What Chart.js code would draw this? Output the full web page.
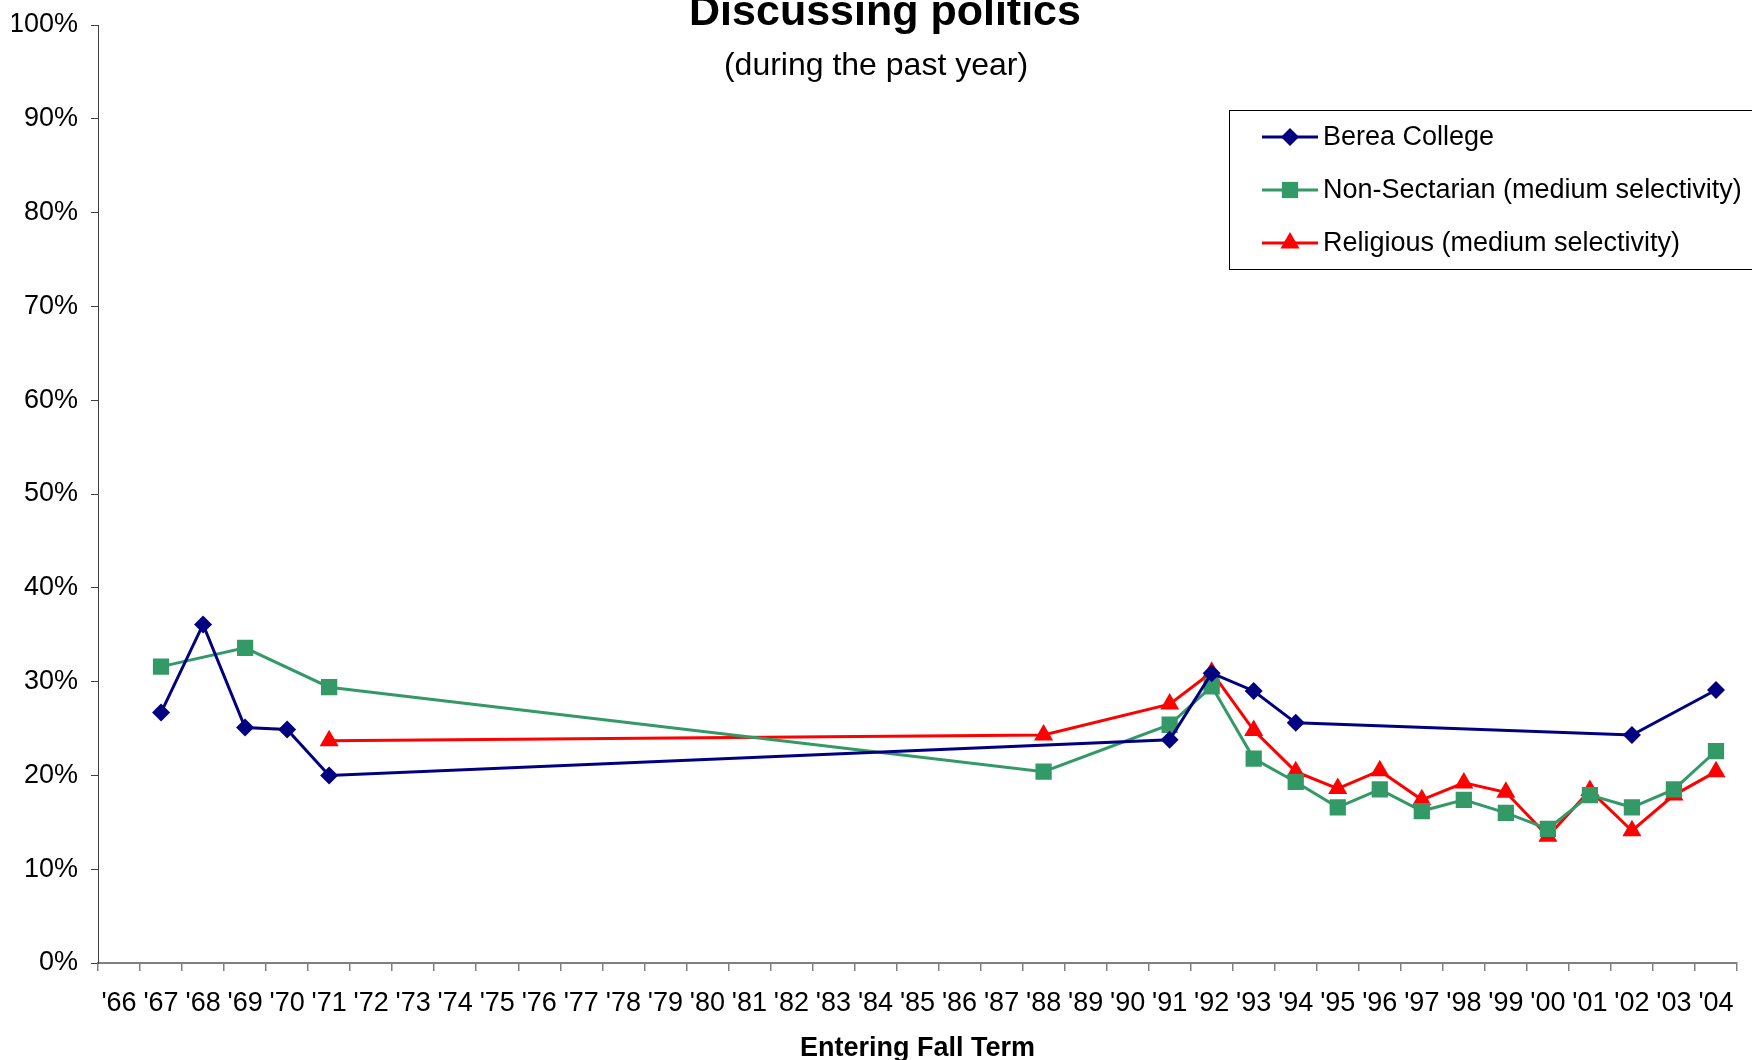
<!DOCTYPE html>
<html>
<head>
<meta charset="utf-8">
<title>Discussing politics</title>
<script src="https://cdn.jsdelivr.net/npm/chart.js@4/dist/chart.umd.min.js"></script>
<style>
  html, body { margin: 0; padding: 0; background: #fff; }
  #wrap { width: 1752px; height: 1060px; }
</style>
</head>
<body>
<div id="wrap"><canvas id="chart" width="1752" height="1060"></canvas></div>
<script>
const FONT = '"Liberation Sans", Arial, sans-serif'

// entering fall term, '66 .. '04
const years = ["'66", "'67", "'68", "'69", "'70", "'71", "'72", "'73", "'74", "'75", "'76", "'77", "'78",
  "'79", "'80", "'81", "'82", "'83", "'84", "'85", "'86", "'87", "'88", "'89", "'90", "'91",
  "'92", "'93", "'94", "'95", "'96", "'97", "'98", "'99", "'00", "'01", "'02", "'03", "'04"]

// percent of students, null = no survey that year
const berea = [null, 26.7, 36.1, 25.1, 24.9, 20.0, null, null, null, null, null, null, null,
  null, null, null, null, null, null, null, null, null, null, null, null, 23.8,
  30.9, 29.0, 25.6, null, null, null, null, null, null, null, 24.3, null, 29.1]

const nonSectarian = [null, 31.6, null, 33.6, null, 29.4, null, null, null, null, null, null, null,
  null, null, null, null, null, null, null, null, null, 20.4, null, null, 25.4,
  29.5, 21.8, 19.3, 16.6, 18.5, 16.2, 17.4, 16.0, 14.3, 17.9, 16.6, 18.5, 22.6]

const religious = [null, null, null, null, null, 23.7, null, null, null, null, null, null, null,
  null, null, null, null, null, null, null, null, null, 24.3, null, null, 27.6,
  31.0, 24.8, 20.4, 18.6, 20.5, 17.4, 19.2, 18.2, 13.5, 18.4, 14.1, 17.9, 20.4]

const yTicks = [0, 10, 20, 30, 40, 50, 60, 70, 80, 90, 100]

// title, subtitle and the boxed legend sit over the plot like in the excel chart
const overlay = {
  id: 'overlay',
  afterDraw(chart) {
    const ctx = chart.ctx
    ctx.save()
    ctx.fillStyle = '#000'
    ctx.textAlign = 'center'
    ctx.textBaseline = 'alphabetic'
    ctx.font = 'bold 43px ' + FONT
    ctx.fillText('Discussing politics', 885, 25)
    ctx.font = '32px ' + FONT
    ctx.fillText('(during the past year)', 876, 75)

    // legend box
    ctx.fillStyle = '#fff'
    ctx.fillRect(1229.5, 110.5, 600, 159)
    ctx.strokeStyle = '#000'
    ctx.lineWidth = 1
    ctx.strokeRect(1229.5, 110.5, 600, 159)

    const rows = [137, 190, 243]
    chart.data.datasets.forEach((ds, i) => {
      const y = rows[i]
      ctx.strokeStyle = ds.borderColor
      ctx.lineWidth = 3
      ctx.beginPath()
      ctx.moveTo(1262, y)
      ctx.lineTo(1318, y)
      ctx.stroke()
      ctx.fillStyle = ds.pointBackgroundColor
      Chart.helpers.drawPoint(ctx, {
        pointStyle: ds.pointStyle,
        radius: ds.pointRadius,
        rotation: 0,
        borderWidth: 0
      }, 1290, y)
      ctx.fillStyle = '#000'
      ctx.textAlign = 'left'
      ctx.textBaseline = 'middle'
      ctx.font = '27px ' + FONT
      ctx.fillText(ds.label, 1323, y + 1)
    })
    ctx.restore()
  }
}

function series(label, data, color, style, radius) {
  return {
    label: label,
    data: data,
    borderColor: color,
    backgroundColor: color,
    pointBackgroundColor: color,
    pointBorderColor: color,
    pointBorderWidth: 0,
    pointStyle: style,
    pointRadius: radius,
    borderWidth: 3,
    tension: 0,
    spanGaps: true
  }
}

new Chart(document.getElementById('chart'), {
  type: 'line',
  data: {
    labels: years,
    datasets: [
      series('Berea College', berea, '#000080', 'rectRot', 9),
      series('Non-Sectarian (medium selectivity)', nonSectarian, '#339966', 'rect', 11.5),
      series('Religious (medium selectivity)', religious, '#ff0000', 'triangle', 11)
    ]
  },
  options: {
    responsive: false,
    animation: false,
    events: [],
    devicePixelRatio: 1,
    layout: { padding: { left: 12, right: 15, top: 25, bottom: 0 } },
    plugins: {
      legend: { display: false },
      title: { display: false },
      tooltip: { enabled: false }
    },
    scales: {
      x: {
        type: 'category',
        offset: true,
        afterFit: (scale) => { scale.height = 97 },
        grid: { offset: true, drawOnChartArea: false, drawTicks: true, tickLength: 8, color: '#808080', lineWidth: 1.5 },
        border: { color: '#808080', width: 2 },
        ticks: {
          autoSkip: false,
          maxRotation: 0,
          minRotation: 0,
          padding: 16,
          color: '#000',
          font: { family: FONT, size: 27 }
        },
        title: {
          display: true,
          text: 'Entering Fall Term',
          color: '#000',
          font: { family: FONT, size: 27, weight: 'bold', lineHeight: 1.0 },
          padding: { top: 10, bottom: -2 }
        }
      },
      y: {
        min: 0,
        max: 100,
        afterFit: (scale) => {
          scale.width = 86
          scale.paddingTop = 0  // let "100%" stick up above the plot top
        },
        afterBuildTicks: (scale) => {
          scale.ticks = yTicks.map(v => ({ value: v }))
        },
        grid: { drawOnChartArea: false, drawTicks: true, tickLength: 7, color: '#404040' },
        border: { color: '#404040', width: 1 },
        ticks: {
          padding: 13,
          color: '#000',
          font: { family: FONT, size: 27 },
          callback: (v) => v + '%'
        }
      }
    }
  },
  plugins: [overlay]
})
</script>
</body>
</html>
